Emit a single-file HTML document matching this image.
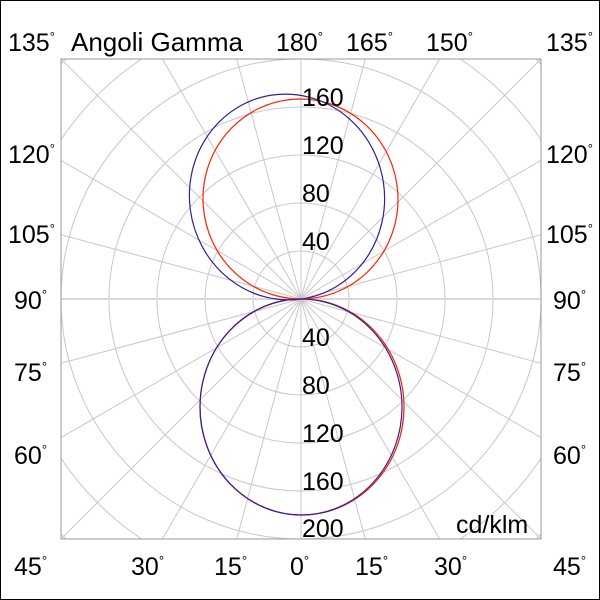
<!DOCTYPE html>
<html><head><meta charset="utf-8"><style>
html,body{margin:0;padding:0;background:#fff;overflow:hidden;width:600px;height:600px}
svg{display:block}
text{font-family:"Liberation Sans",sans-serif;font-size:25px;fill:#000}
.d{font-size:13px}
</style></head><body>
<svg width="600" height="600" viewBox="0 0 600 600">
<rect x="0.5" y="0.5" width="599" height="599" fill="#fff" stroke="#000"/>
<defs><clipPath id="c"><rect x="61" y="59" width="480" height="480"/></clipPath></defs>
<g clip-path="url(#c)" fill="none" stroke="#c8c8c8" stroke-width="1">
<circle cx="301" cy="299" r="48"/><circle cx="301" cy="299" r="96"/><circle cx="301" cy="299" r="144"/>
<circle cx="301" cy="299" r="192"/><circle cx="301" cy="299" r="240"/><circle cx="301" cy="299" r="288"/><circle cx="301" cy="299" r="336"/>
<line x1="301" y1="299" x2="301" y2="-200"/>
<line x1="301" y1="299" x2="301" y2="800"/>
<line x1="301" y1="299" x2="430" y2="-183"/><line x1="301" y1="299" x2="172" y2="781"/>
<line x1="301" y1="299" x2="172" y2="-183"/><line x1="301" y1="299" x2="430" y2="781"/>
<line x1="301" y1="299" x2="551" y2="-134"/><line x1="301" y1="299" x2="51" y2="732"/>
<line x1="301" y1="299" x2="51" y2="-134"/><line x1="301" y1="299" x2="551" y2="732"/>
<line x1="301" y1="299" x2="701" y2="-101"/><line x1="301" y1="299" x2="-99" y2="699"/>
<line x1="301" y1="299" x2="-99" y2="-101"/><line x1="301" y1="299" x2="701" y2="699"/>
<line x1="301" y1="299" x2="734" y2="49"/><line x1="301" y1="299" x2="-132" y2="549"/>
<line x1="301" y1="299" x2="-132" y2="49"/><line x1="301" y1="299" x2="734" y2="549"/>
<line x1="301" y1="299" x2="783" y2="170"/><line x1="301" y1="299" x2="-181" y2="428"/>
<line x1="301" y1="299" x2="-181" y2="170"/><line x1="301" y1="299" x2="783" y2="428"/>
<line x1="61" y1="299" x2="541" y2="299" stroke="#d8d8d8" stroke-width="2"/>
</g>
<rect x="61" y="59" width="480" height="480" fill="none" stroke="#999"/>
<g fill="none" stroke-width="1.2">
<ellipse cx="302" cy="407" rx="102" ry="108" stroke="#ff2000"/>
<ellipse cx="301" cy="407" rx="101" ry="108" stroke="#3020a0"/>
<ellipse cx="300.5" cy="199" rx="97.5" ry="100" transform="rotate(-4 300.5 199)" stroke="#ff2000"/>
<ellipse cx="287" cy="197" rx="97.5" ry="103" transform="rotate(-8 287 197)" stroke="#3020a0"/>
</g>
<g>
<text x="302" y="106">160</text><text x="302" y="154">120</text><text x="302" y="202">80</text><text x="302" y="250">40</text>
<text x="302" y="346">40</text><text x="302" y="394">80</text><text x="302" y="442">120</text><text x="302" y="490">160</text><text x="302" y="537">200</text>
<text x="456" y="533">cd/klm</text>
<text x="71" y="51" style="font-size:26px">Angoli Gamma</text>
</g>
<g>
<text x="8" y="51">135<tspan class="d" dy="-10">°</tspan></text>
<text x="276" y="51">180<tspan class="d" dy="-10">°</tspan></text>
<text x="346" y="51">165<tspan class="d" dy="-10">°</tspan></text>
<text x="426" y="51">150<tspan class="d" dy="-10">°</tspan></text>
<text x="546" y="51">135<tspan class="d" dy="-10">°</tspan></text>
<text x="8" y="163">120<tspan class="d" dy="-10">°</tspan></text><text x="546" y="163">120<tspan class="d" dy="-10">°</tspan></text>
<text x="8" y="243">105<tspan class="d" dy="-10">°</tspan></text><text x="546" y="243">105<tspan class="d" dy="-10">°</tspan></text>
<text x="14" y="309">90<tspan class="d" dy="-10">°</tspan></text><text x="553" y="309">90<tspan class="d" dy="-10">°</tspan></text>
<text x="14" y="381">75<tspan class="d" dy="-10">°</tspan></text><text x="553" y="381">75<tspan class="d" dy="-10">°</tspan></text>
<text x="14" y="464">60<tspan class="d" dy="-10">°</tspan></text><text x="553" y="464">60<tspan class="d" dy="-10">°</tspan></text>
<text x="14" y="575">45<tspan class="d" dy="-10">°</tspan></text>
<text x="131" y="575">30<tspan class="d" dy="-10">°</tspan></text>
<text x="214" y="575">15<tspan class="d" dy="-10">°</tspan></text>
<text x="290" y="575">0<tspan class="d" dy="-10">°</tspan></text>
<text x="355" y="575">15<tspan class="d" dy="-10">°</tspan></text>
<text x="434" y="575">30<tspan class="d" dy="-10">°</tspan></text>
<text x="553" y="575">45<tspan class="d" dy="-10">°</tspan></text>
</g>
</svg>
</body></html>
